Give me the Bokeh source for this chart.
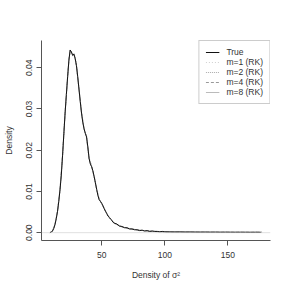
from bokeh.plotting import figure
from bokeh.models import Range1d, FixedTicker, Span, Legend, LegendItem
from bokeh.embed import file_html
from bokeh.resources import INLINE

# ---- data ----
x_true = [9, 10, 11, 12, 13, 14, 15, 16, 17, 18, 19, 20, 21, 22, 23, 24, 25, 26, 27, 28,
          29, 30, 31, 32, 33, 34, 35, 36, 37, 38, 39, 40, 41, 42, 43, 44, 45, 46, 47, 48,
          49, 50, 51, 52, 53, 54, 55, 56, 57, 58, 59, 60,
          62, 64, 66, 68, 70, 72, 74, 76, 78, 80, 82, 84, 86, 88, 90, 92, 94, 96, 98, 100,
          104, 108, 112, 116, 120, 124, 128, 132, 136, 140, 144, 148, 152, 156, 160, 164, 168, 172, 176]
y_true = [0.0000, 0.0001, 0.0004, 0.0010, 0.0020, 0.0034, 0.0052, 0.0076, 0.0105, 0.0140,
          0.0188, 0.0240, 0.0290, 0.0335, 0.0378, 0.0418, 0.0443, 0.0438, 0.0430, 0.0433,
          0.0422, 0.0405, 0.0378, 0.0348, 0.0318, 0.0290, 0.0268, 0.0252, 0.0241, 0.0232,
          0.0208, 0.0180, 0.0166, 0.0160, 0.0150, 0.0136, 0.0121, 0.0105, 0.0090, 0.0080,
          0.0076, 0.0071, 0.0065, 0.0058, 0.0052, 0.0046, 0.0040, 0.0037, 0.0033, 0.0030,
          0.0025, 0.0023,
          0.0021, 0.0016, 0.0015, 0.0012, 0.0012, 0.0009, 0.0009, 0.0007, 0.0007, 0.0005,
          0.0006, 0.0004, 0.0005, 0.0003, 0.0004, 0.0003, 0.0003, 0.0002, 0.0003, 0.0002,
          0.00018, 0.00016, 0.00017, 0.00014, 0.00015, 0.00013, 0.00012, 0.00013, 0.00011, 0.00012,
          0.00010, 0.00011, 0.00010, 0.00009, 0.00010, 0.00009, 0.00008, 0.00009, 0.00008]

x_rk = [9, 11, 13, 15, 17, 19, 21, 23, 24, 25, 26, 27, 28, 29, 30, 32, 34, 36, 38, 40,
        42, 44, 46, 48, 50, 53, 56, 60, 65, 70, 80, 90, 100, 120, 140, 160, 177]
y_m1 = [0, .0005, .0021, .0053, .0107, .0190, .0288, .0380, .0420, .0440, .0436, .0432, .0430,
        .0420, .0402, .0350, .0292, .0255, .0228, .0183, .0158, .0138, .0107, .0082, .0070,
        .0053, .0036, .0024, .0015, .0011, .0006, .0003, .0002, .00015, .00012, .0001, .0001]
y_m2 = [0, .0004, .0019, .0051, .0104, .0186, .0292, .0376, .0416, .0441, .0440, .0428, .0435,
        .0424, .0407, .0346, .0288, .0250, .0234, .0178, .0162, .0134, .0104, .0079, .0072,
        .0051, .0038, .0022, .0016, .0010, .0006, .0004, .0002, .00014, .00011, .0001, .0001]
y_m4 = [0, .0004, .0020, .0052, .0106, .0189, .0291, .0379, .0419, .0442, .0437, .0431, .0432,
        .0421, .0404, .0349, .0291, .0253, .0230, .0181, .0161, .0137, .0106, .0081, .0070,
        .0052, .0037, .0023, .0015, .0011, .0006, .0003, .0002, .00015, .00012, .0001, .0001]
y_m8 = [0, .0004, .0020, .0052, .0105, .0188, .0290, .0378, .0418, .0443, .0438, .0430, .0433,
        .0422, .0405, .0348, .0290, .0252, .0232, .0180, .0160, .0136, .0105, .0080, .0071,
        .0052, .0037, .0023, .0015, .0011, .0006, .0003, .0002, .00015, .00012, .0001, .0001]

x_ticks = [50, 100, 150]
y_ticks = [0.00, 0.01, 0.02, 0.03, 0.04]
y_tick_labels = {0.00: "0.00", 0.01: "0.01", 0.02: "0.02", 0.03: "0.03", 0.04: "0.04"}

FONT = "Liberation Sans"

p = figure(width=291, height=291, output_backend="svg", toolbar_location=None,
           x_range=Range1d(2.3, 183.7), y_range=Range1d(-0.0019, 0.0466),
           min_border_left=40, min_border_right=21, min_border_top=40, min_border_bottom=51)
p.outline_line_color = None
p.grid.visible = False
p.background_fill_color = "white"
p.border_fill_color = "white"

for ax in (p.xaxis[0], p.yaxis[0]):
    ax.axis_line_color = "#555555"
    ax.major_tick_line_color = "#555555"
    ax.minor_tick_line_color = None
    ax.major_tick_out = 5
    ax.major_tick_in = 0
    ax.major_label_text_font = FONT
    ax.major_label_text_font_size = "8.5px"
    ax.major_label_text_color = "#333333"
    ax.axis_label_text_font = FONT
    ax.axis_label_text_font_size = "8.5px"
    ax.axis_label_text_font_style = "normal"
    ax.axis_label_text_color = "#333333"

p.xaxis.ticker = FixedTicker(ticks=x_ticks)
p.yaxis.ticker = FixedTicker(ticks=y_ticks)
p.yaxis.major_label_overrides = y_tick_labels
p.yaxis.major_label_orientation = "vertical"
p.xaxis.major_label_standoff = 6
p.yaxis.major_label_standoff = 4
p.xaxis.axis_label = "Density of σ²"
p.yaxis.axis_label = "Density"
p.xaxis.axis_label_standoff = 9
p.yaxis.axis_label_standoff = 10

p.add_layout(Span(location=0, dimension="width", line_color="#cccccc", line_width=0.6))

r1 = p.line(x_rk, y_m1, line_color="#cfcfcf", line_width=1, line_dash="1 2")
r2 = p.line(x_rk, y_m2, line_color="#aaaaaa", line_width=1, line_dash="1 1")
r4 = p.line(x_rk, y_m4, line_color="#999999", line_width=1, line_dash="3 2")
r8 = p.line(x_rk, y_m8, line_color="#bbbbbb", line_width=1)
rt = p.line(x_true, y_true, line_color="#111111", line_width=1)

legend = Legend(items=[
    LegendItem(label="True", renderers=[rt]),
    LegendItem(label="m=1 (RK)", renderers=[r1]),
    LegendItem(label="m=2 (RK)", renderers=[r2]),
    LegendItem(label="m=4 (RK)", renderers=[r4]),
    LegendItem(label="m=8 (RK)", renderers=[r8]),
], location="top_right")
legend.margin = 0
legend.padding = 6
legend.spacing = 0
legend.glyph_width = 14
legend.glyph_height = 10
legend.label_height = 10
legend.label_standoff = 7
legend.label_text_font = FONT
legend.label_text_font_size = "8.5px"
legend.label_text_color = "#333333"
legend.border_line_color = "#999999"
legend.border_line_width = 1
legend.background_fill_color = "white"
legend.background_fill_alpha = 1
p.add_layout(legend)

open("out.html", "w").write(file_html(p, INLINE))
